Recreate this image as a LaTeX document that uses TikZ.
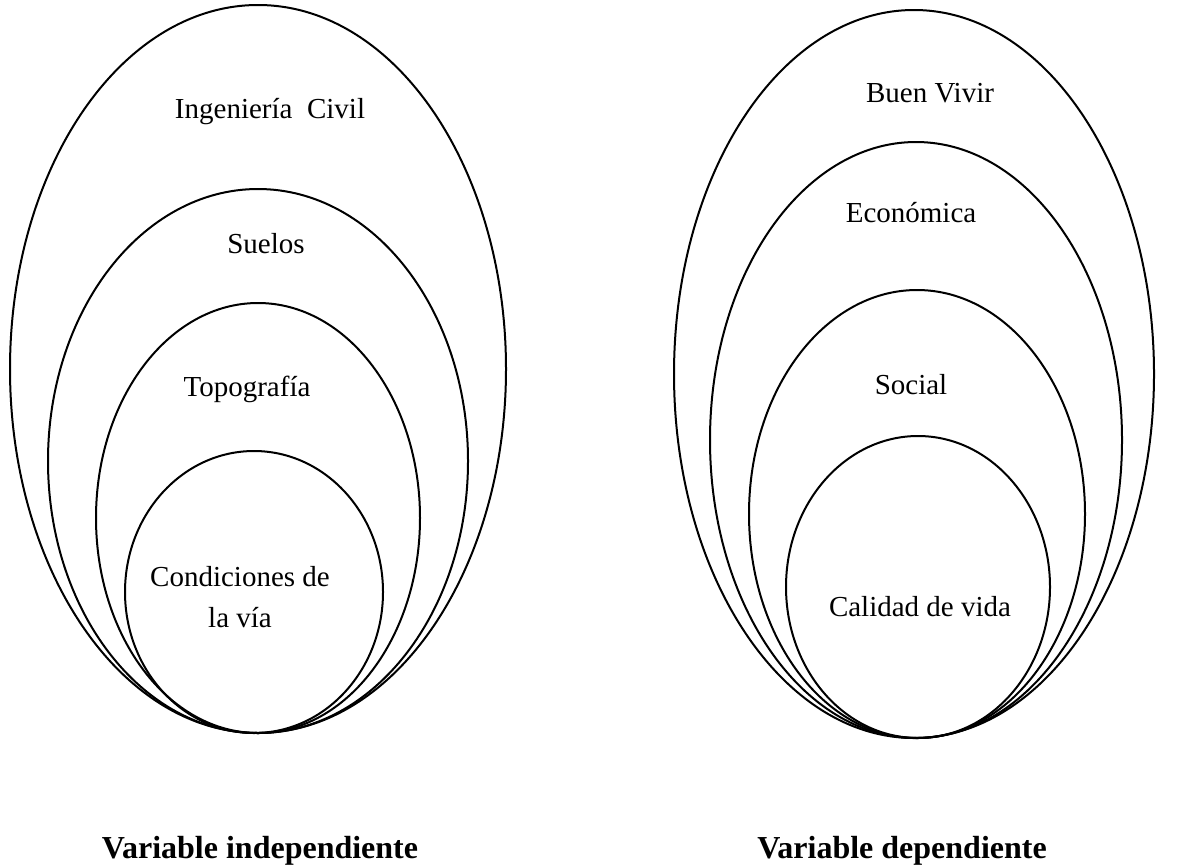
\documentclass[tikz,border=0pt]{standalone}
\usepackage{fontspec}
\setmainfont{Liberation Serif}
\begin{document}
\begin{tikzpicture}[x=1pt,y=-1pt,
  ring/.style={draw=black,line width=2pt},
  lbl/.style={font=\fontsize{29}{41}\selectfont,align=center,anchor=base,inner sep=0pt},
  varcap/.style={font=\fontsize{32}{38}\selectfont\bfseries,anchor=base,inner sep=0pt}]
\useasboundingbox (0,0) rectangle (1182,865);
% left group
\draw[ring] (258,369) ellipse [x radius=248, y radius=364];
\draw[ring] (258,461) ellipse [x radius=210, y radius=272];
\draw[ring] (258,518) ellipse [x radius=162, y radius=215];
\draw[ring] (254,592) ellipse [x radius=129, y radius=141];
% right group
\draw[ring] (914,374) ellipse [x radius=240, y radius=364];
\draw[ring] (916,440) ellipse [x radius=206, y radius=298];
\draw[ring] (917,514) ellipse [x radius=168, y radius=224];
\draw[ring] (918,587) ellipse [x radius=132, y radius=151];
% labels
\node[lbl] (ic) at (270,118) {Ingeniería\ \ Civil};
\node[lbl] (su) at (266,253) {Suelos};
\node[lbl] (to) at (247,396) {Topografía};
\node[lbl,anchor=north] (cv) at (240,566) {Condiciones de\\la vía};
\node[lbl] (bv) at (930,102) {Buen Vivir};
\node[lbl] (ec) at (911,222) {Económica};
\node[lbl] (so) at (911,394) {Social};
\node[lbl] (cd) at (920,616) {Calidad de vida};
\node[varcap] (vi) at (260,858) {Variable independiente};
\node[varcap] (vd) at (902,858) {Variable dependiente};
\end{tikzpicture}
\end{document}
